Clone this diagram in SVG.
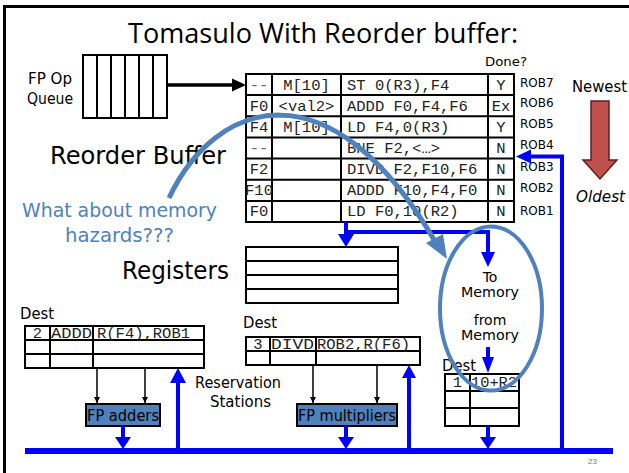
<svg xmlns="http://www.w3.org/2000/svg" width="629" height="473" viewBox="0 0 629 473">
  <style>
    .lbl { font-family: "DejaVu Sans", "Liberation Sans", sans-serif; fill: #000; }
    .mono { font-family: "Liberation Mono", "DejaVu Sans Mono", monospace; font-size: 15.5px; fill: #222; }
    .grid { fill: none; stroke: #000; stroke-width: 2; }
    .bus { fill: none; stroke: #0000FF; stroke-width: 4; }
    .bluehead { fill: #0000FF; }
    .thin { fill: none; stroke: #000; stroke-width: 1.5; }
    .unit { fill: #4F81BD; stroke: #000; stroke-width: 2; }
    .note { fill: none; stroke: #4F81BD; }
  </style>
  <defs>
    <marker id="tip" viewBox="0 0 10 10" refX="10" refY="5" markerWidth="6" markerHeight="6" markerUnits="userSpaceOnUse" orient="auto">
      <path d="M0,0 L10,5 L0,10 z" fill="#000"/>
    </marker>
  </defs>

  <rect width="629" height="473" fill="#fff"/>

  <!-- slide frame -->
  <path d="M4.5,473 V6.5 H629" fill="none" stroke="#000" stroke-width="3"/>

  <text class="lbl" x="128" y="43" font-family="Open Sans, Noto Sans, sans-serif" font-size="28" textLength="390" lengthAdjust="spacingAndGlyphs" style="font-family:'Open Sans','Noto Sans',sans-serif">Tomasulo With Reorder buffer:</text>

  <!-- instruction queue -->
  <g id="fp-op-queue">
    <text class="lbl" x="28" y="84" font-size="15" textLength="44" lengthAdjust="spacingAndGlyphs">FP Op</text>
    <text class="lbl" x="27" y="104" font-size="15" textLength="46" lengthAdjust="spacingAndGlyphs">Queue</text>
    <rect class="grid" x="83" y="55" width="84" height="63"/>
    <path class="grid" d="M97,55V118M111,55V118M125,55V118M139,55V118M153,55V118"/>
  </g>

  <!-- reorder buffer -->
  <g id="reorder-buffer">
    <text class="lbl" x="50" y="164" font-size="24" textLength="176" lengthAdjust="spacingAndGlyphs">Reorder Buffer</text>
    <text class="lbl" x="485" y="66" font-size="13" textLength="42" lengthAdjust="spacingAndGlyphs">Done?</text>
    <rect class="grid" x="246" y="74" width="268" height="148"/>
    <path class="grid" d="M272,74V222M341,74V222M488,74V222
      M246,95.1H514M246,116.3H514M246,137.4H514M246,158.6H514M246,179.7H514M246,200.9H514"/>
    <g class="mono">
      <text x="259" y="89.5" text-anchor="middle" fill="#666">--</text>
      <text x="306.5" y="89.5" text-anchor="middle">M[10]</text>
      <text x="347" y="89.5">ST 0(R3),F4</text>
      <text x="501" y="89.5" text-anchor="middle">Y</text>

      <text x="259" y="110.6" text-anchor="middle">F0</text>
      <text x="306.5" y="110.6" text-anchor="middle">&lt;val2&gt;</text>
      <text x="347" y="110.6">ADDD F0,F4,F6</text>
      <text x="501" y="110.6" text-anchor="middle">Ex</text>

      <text x="259" y="131.8" text-anchor="middle">F4</text>
      <text x="306.5" y="131.8" text-anchor="middle">M[10]</text>
      <text x="347" y="131.8">LD F4,0(R3)</text>
      <text x="501" y="131.8" text-anchor="middle">Y</text>

      <text x="259" y="152.9" text-anchor="middle" fill="#666">--</text>
      <text x="347" y="152.9">BNE F2,&lt;…&gt;</text>
      <text x="501" y="152.9" text-anchor="middle">N</text>

      <text x="259" y="174.1" text-anchor="middle">F2</text>
      <text x="347" y="174.1">DIVD F2,F10,F6</text>
      <text x="501" y="174.1" text-anchor="middle">N</text>

      <text x="259" y="195.2" text-anchor="middle">F10</text>
      <text x="347" y="195.2">ADDD F10,F4,F0</text>
      <text x="501" y="195.2" text-anchor="middle">N</text>

      <text x="259" y="216.4" text-anchor="middle">F0</text>
      <text x="347" y="216.4">LD F0,10(R2)</text>
      <text x="501" y="216.4" text-anchor="middle">N</text>
    </g>
    <g class="lbl" font-size="12">
      <text x="520" y="87">ROB7</text>
      <text x="520" y="107">ROB6</text>
      <text x="520" y="128">ROB5</text>
      <text x="520" y="149">ROB4</text>
      <text x="520" y="171">ROB3</text>
      <text x="520" y="192">ROB2</text>
      <text x="520" y="215">ROB1</text>
    </g>
  </g>

  <!-- age direction -->
  <g id="age-arrow">
    <text class="lbl" x="572" y="92" font-size="15.5" textLength="55" lengthAdjust="spacingAndGlyphs">Newest</text>
    <path d="M591,101 H609 V160 H617 L600,179 L583,160 H591 Z" fill="#C0504D" stroke="#5a2020" stroke-width="1.5"/>
    <text class="lbl" x="576" y="202" font-size="15.5" font-style="italic" textLength="49" lengthAdjust="spacingAndGlyphs">Oldest</text>
  </g>

  <!-- register file -->
  <g id="registers">
    <text class="lbl" x="122" y="279" font-size="24" textLength="107" lengthAdjust="spacingAndGlyphs">Registers</text>
    <rect class="grid" x="246" y="247" width="152" height="56"/>
    <path class="grid" d="M246,261H398M246,275H398M246,289H398"/>
  </g>

  <!-- adder reservation stations -->
  <g id="rs-adders">
    <text class="lbl" x="20" y="319" font-size="15" textLength="34" lengthAdjust="spacingAndGlyphs">Dest</text>
    <rect class="grid" x="25" y="326" width="179" height="42"/>
    <path class="grid" d="M25,340H204M25,354H204M50,326V368M93,326V368"/>
    <g class="mono">
      <text x="37.5" y="338" text-anchor="middle">2</text>
      <text x="51" y="338" textLength="41" lengthAdjust="spacingAndGlyphs">ADDD</text>
      <text x="97" y="338">R(F4),ROB1</text>
    </g>
  </g>

  <g id="fp-adders">
    <rect class="unit" x="86" y="404" width="74" height="22"/>
    <text class="lbl" x="87" y="421" font-size="15.5" textLength="72" lengthAdjust="spacingAndGlyphs">FP adders</text>
  </g>

  <g id="rs-label">
    <text class="lbl" x="195" y="388" font-size="15" textLength="86" lengthAdjust="spacingAndGlyphs">Reservation</text>
    <text class="lbl" x="210" y="407" font-size="15" textLength="61" lengthAdjust="spacingAndGlyphs">Stations</text>
  </g>

  <!-- multiplier reservation stations -->
  <g id="rs-multipliers">
    <text class="lbl" x="243" y="328" font-size="15" textLength="34" lengthAdjust="spacingAndGlyphs">Dest</text>
    <rect class="grid" x="246" y="337" width="174" height="28"/>
    <path class="grid" d="M246,351H420M270,337V365M316,337V365"/>
    <g class="mono">
      <text x="258" y="348.5" text-anchor="middle">3</text>
      <text x="271" y="348.5" textLength="43" lengthAdjust="spacingAndGlyphs">DIVD</text>
      <text x="317" y="348.5">ROB2,R(F6)</text>
    </g>
  </g>

  <g id="fp-multipliers">
    <rect class="unit" x="297" y="404" width="100" height="22"/>
    <text class="lbl" x="298" y="421" font-size="15" textLength="98" lengthAdjust="spacingAndGlyphs">FP multipliers</text>
  </g>

  <!-- memory unit buffers -->
  <g id="memory-unit">
    <text class="lbl" x="490" y="282" font-size="14" text-anchor="middle">To</text>
    <text class="lbl" x="490" y="297" font-size="14" text-anchor="middle" textLength="58" lengthAdjust="spacingAndGlyphs">Memory</text>
    <text class="lbl" x="490" y="325" font-size="14" text-anchor="middle">from</text>
    <text class="lbl" x="490" y="340" font-size="14" text-anchor="middle" textLength="58" lengthAdjust="spacingAndGlyphs">Memory</text>
    <text class="lbl" x="442" y="371" font-size="15" textLength="34" lengthAdjust="spacingAndGlyphs">Dest</text>
    <rect class="grid" x="445" y="374" width="74" height="52"/>
    <path class="grid" d="M445,391H519M445,408H519M470,374V426"/>
    <g class="mono">
      <text x="457.5" y="387" text-anchor="middle">1</text>
      <text x="471" y="387" textLength="46" lengthAdjust="spacingAndGlyphs">10+R2</text>
    </g>
  </g>

  <!-- data paths -->
  <g id="connectors">
    <!-- queue to ROB -->
    <path d="M167,85 H233" stroke="#000" stroke-width="3.5" fill="none"/>
    <path d="M232,78.5 L246,85 L232,91.5 Z" fill="#000"/>

    <!-- reservation stations to functional units -->
    <path class="thin" d="M97,368 V403" marker-end="url(#tip)"/>
    <path class="thin" d="M145,368 V403" marker-end="url(#tip)"/>
    <path class="thin" d="M313,365 V403" marker-end="url(#tip)"/>
    <path class="thin" d="M377,365 V403" marker-end="url(#tip)"/>

    <!-- common data bus -->
    <rect x="25" y="448" width="588" height="6" fill="#0000FF"/>

    <!-- ROB commit to registers and memory -->
    <path class="bus" d="M346,222 V236 M346,232 H490 M488,232 V254"/>
    <path class="bluehead" d="M338,234 L354,234 L346,247 Z"/>
    <path class="bluehead" d="M481,252 L495,252 L488,267 Z"/>

    <!-- memory load to buffer -->
    <path class="bus" d="M488,347 V359"/>
    <path class="bluehead" d="M482,357 L494,357 L488,373 Z"/>

    <!-- functional units to bus -->
    <path class="bus" d="M123,426 V439"/>
    <path class="bluehead" d="M115,437 L131,437 L123,449 Z"/>
    <path class="bus" d="M346,426 V439"/>
    <path class="bluehead" d="M338,437 L354,437 L346,449 Z"/>
    <path class="bus" d="M488,426 V439"/>
    <path class="bluehead" d="M480,437 L496,437 L488,449 Z"/>

    <!-- bus to reservation stations -->
    <path class="bus" d="M178,449 V381"/>
    <path class="bluehead" d="M170,383 L186,383 L178,368 Z"/>
    <path class="bus" d="M409,449 V376"/>
    <path class="bluehead" d="M402,378 L416,378 L409,365 Z"/>

    <!-- bus back to ROB -->
    <path class="bus" d="M562,450 V156.5 H529"/>
    <path class="bluehead" d="M531,149.5 L531,163.5 L516,156.5 Z"/>
  </g>

  <!-- memory hazard annotation -->
  <g id="hazard-note">
    <text x="22" y="217" font-family="DejaVu Sans, Liberation Sans, sans-serif" font-size="19" fill="#4F81BD" textLength="195" lengthAdjust="spacingAndGlyphs">What about memory</text>
    <text x="65" y="242" font-family="DejaVu Sans, Liberation Sans, sans-serif" font-size="19" fill="#4F81BD" textLength="109" lengthAdjust="spacingAndGlyphs">hazards???</text>
    <path class="note" stroke-width="5" d="M169,198 C215,100 330,60 436,243"/>
    <path d="M426,243 L447,259 L443,234 Z" fill="#4F81BD"/>
    <ellipse class="note" stroke-width="4" cx="491" cy="308.5" rx="51" ry="82"/>
  </g>

  <text x="588" y="464" font-family="Liberation Sans, sans-serif" font-size="8" fill="#777">23</text>
</svg>
